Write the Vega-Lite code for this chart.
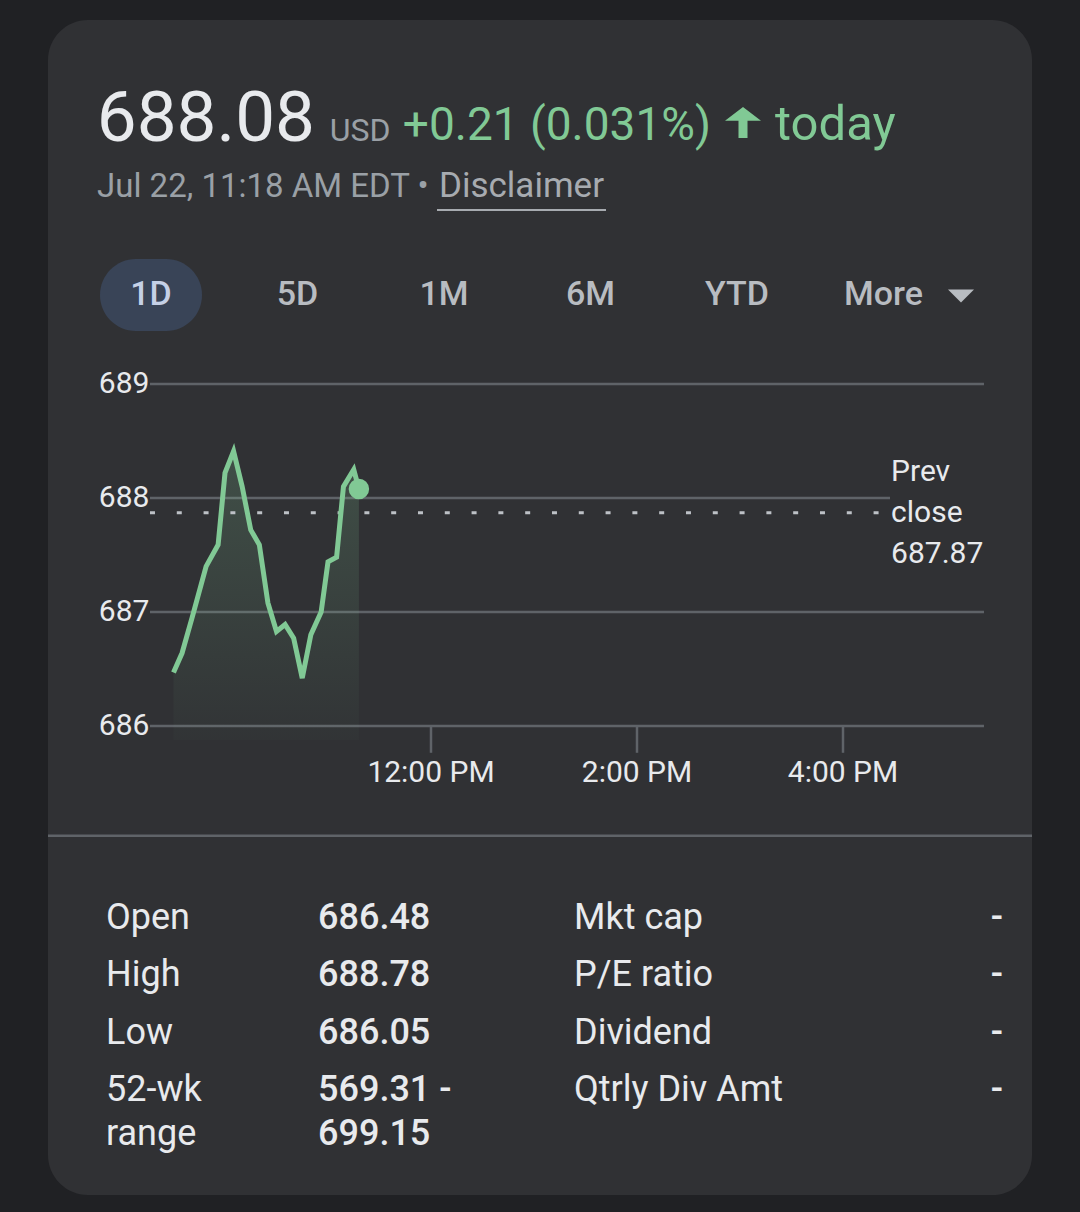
{
  "$schema": "https://vega.github.io/schema/vega-lite/v6.json",
  "width": 984,
  "height": 1175,
  "autosize": {"type": "none"},
  "padding": {"left": 48, "top": 20, "right": 48, "bottom": 17},
  "background": "#202124",
  "config": {
    "view": {"fill": "#303134", "stroke": null, "cornerRadius": 40},
    "text": {"font": "Roboto"}
  },
  "datasets": {
    "price": [
      {"time": "2025-07-22T09:30:00", "price": 686.47},
      {"time": "2025-07-22T09:35:00", "price": 686.64},
      {"time": "2025-07-22T09:41:00", "price": 686.96},
      {"time": "2025-07-22T09:49:00", "price": 687.40},
      {"time": "2025-07-22T09:56:00", "price": 687.59},
      {"time": "2025-07-22T10:00:00", "price": 688.22},
      {"time": "2025-07-22T10:05:00", "price": 688.41},
      {"time": "2025-07-22T10:10:00", "price": 688.10},
      {"time": "2025-07-22T10:15:00", "price": 687.72},
      {"time": "2025-07-22T10:20:00", "price": 687.59},
      {"time": "2025-07-22T10:25:00", "price": 687.08},
      {"time": "2025-07-22T10:30:00", "price": 686.83},
      {"time": "2025-07-22T10:35:00", "price": 686.89},
      {"time": "2025-07-22T10:40:00", "price": 686.77},
      {"time": "2025-07-22T10:45:00", "price": 686.42},
      {"time": "2025-07-22T10:50:00", "price": 686.80},
      {"time": "2025-07-22T10:56:00", "price": 687.00},
      {"time": "2025-07-22T11:00:00", "price": 687.44},
      {"time": "2025-07-22T11:05:00", "price": 687.48},
      {"time": "2025-07-22T11:09:00", "price": 688.10},
      {"time": "2025-07-22T11:15:00", "price": 688.25},
      {"time": "2025-07-22T11:18:00", "price": 688.08}
    ],
    "last": [{"time": "2025-07-22T11:18:00", "price": 688.08}],
    "levels": [{"level": 686}, {"level": 687}, {"level": 688}, {"level": 689}],
    "xticks": [{"tick": "2025-07-22T12:00:00"}, {"tick": "2025-07-22T14:00:00"}, {"tick": "2025-07-22T16:00:00"}],
    "prev": [{"prev_close": 687.87, "label": "Prev\nclose\n687.87"}],
    "header": [
      {"part": "price", "line": "headline", "text": "688.08"},
      {"part": "currency", "line": "headline", "text": "USD"},
      {"part": "change", "line": "headline", "text": "+0.21 (0.031%)"},
      {"part": "arrow", "line": "headline", "text": "↑"},
      {"part": "today", "line": "headline", "text": "today"},
      {"part": "info", "line": "subline", "text": "Jul 22, 11:18 AM EDT •"},
      {"part": "disclaimer", "line": "subline", "text": "Disclaimer"}
    ],
    "tabs": [
      {"tab": "1D", "selected": true},
      {"tab": "5D", "selected": false},
      {"tab": "1M", "selected": false},
      {"tab": "6M", "selected": false},
      {"tab": "YTD", "selected": false},
      {"tab": "More", "selected": false}
    ],
    "stats": [
      {"row": "open", "col": "label", "text": "Open"},
      {"row": "open", "col": "value", "text": "686.48"},
      {"row": "open", "col": "label2", "text": "Mkt cap"},
      {"row": "open", "col": "value2", "text": "-"},
      {"row": "high", "col": "label", "text": "High"},
      {"row": "high", "col": "value", "text": "688.78"},
      {"row": "high", "col": "label2", "text": "P/E ratio"},
      {"row": "high", "col": "value2", "text": "-"},
      {"row": "low", "col": "label", "text": "Low"},
      {"row": "low", "col": "value", "text": "686.05"},
      {"row": "low", "col": "label2", "text": "Dividend"},
      {"row": "low", "col": "value2", "text": "-"},
      {"row": "range", "col": "label", "text": "52-wk\nrange"},
      {"row": "range", "col": "value", "text": "569.31 -\n699.15"},
      {"row": "range", "col": "label2", "text": "Qtrly Div Amt"},
      {"row": "range", "col": "value2", "text": "-"}
    ]
  },
  "layer": [
    {
      "data": {"name": "header"},
      "encoding": {
        "x": {"field": "part", "type": "nominal", "scale": {"type": "point", "domain": ["price", "currency"], "range": [267, 312], "padding": 0}, "axis": null},
        "y": {"field": "line", "type": "nominal", "scale": {"type": "point", "domain": ["headline"], "range": [121, 121], "padding": 0}, "axis": null},
        "text": {"field": "text"}
      },
      "layer": [
        {"transform": [{"filter": "datum.part === 'price'"}], "mark": {"type": "text", "align": "right", "baseline": "alphabetic", "fontSize": 71, "color": "#e8eaed"}},
        {"transform": [{"filter": "datum.part === 'currency'"}], "mark": {"type": "text", "align": "center", "baseline": "alphabetic", "fontSize": 32, "color": "#9aa0a6"}}
      ]
    },
    {
      "data": {"name": "header"},
      "encoding": {
        "x": {"field": "part", "type": "nominal", "scale": {"type": "point", "domain": ["change", "arrow", "today"], "range": [663, 727], "padding": 0}, "axis": null},
        "y": {"field": "line", "type": "nominal", "scale": {"type": "point", "domain": ["headline"], "range": [120, 120], "padding": 0}, "axis": null}
      },
      "layer": [
        {"transform": [{"filter": "datum.part === 'change'"}], "mark": {"type": "text", "align": "right", "baseline": "alphabetic", "fontSize": 46, "color": "#81c995"}, "encoding": {"text": {"field": "text"}}},
        {"transform": [{"filter": "datum.part === 'arrow'"}], "mark": {"type": "point", "filled": true, "opacity": 1, "strokeWidth": 0, "shape": "M 0,-1.833 L 1,-1.072 L 0.25,-1.072 L 0.25,-0.111 L -0.25,-0.111 L -0.25,-1.072 L -1,-1.072 Z", "size": 1296, "color": "#81c995"}},
        {"transform": [{"filter": "datum.part === 'today'"}], "mark": {"type": "text", "align": "left", "baseline": "alphabetic", "fontSize": 49, "color": "#81c995"}, "encoding": {"text": {"field": "text"}}}
      ]
    },
    {
      "data": {"name": "header"},
      "encoding": {
        "x": {"field": "part", "type": "nominal", "scale": {"type": "point", "domain": ["info", "disclaimer"], "range": [49, 473.5], "padding": 0}, "axis": null},
        "y": {"field": "line", "type": "nominal", "scale": {"type": "point", "domain": ["subline"], "range": [177, 177], "padding": 0}, "axis": null}
      },
      "layer": [
        {"transform": [{"filter": "datum.part === 'info'"}], "mark": {"type": "text", "align": "left", "baseline": "alphabetic", "fontSize": 33, "color": "#9aa0a6"}, "encoding": {"text": {"field": "text"}}},
        {"transform": [{"filter": "datum.part === 'disclaimer'"}], "mark": {"type": "text", "align": "center", "baseline": "alphabetic", "fontSize": 35, "color": "#a7abb0"}, "encoding": {"text": {"field": "text"}}},
        {"transform": [{"filter": "datum.part === 'disclaimer'"}], "mark": {"type": "point", "filled": true, "opacity": 1, "strokeWidth": 0, "shape": "M -1,0.142 L 1,0.142 L 1,0.166 L -1,0.166 Z", "size": 28561, "color": "#a7abb0"}}
      ]
    },
    {
      "data": {"name": "tabs"},
      "encoding": {
        "x": {"field": "tab", "type": "nominal", "scale": {"type": "point", "domain": ["1D", "5D", "1M", "6M", "YTD", "More"], "range": [103, 835.5], "padding": 0}, "axis": null},
        "y": {"datum": "tabs", "type": "nominal", "scale": {"type": "point", "domain": ["tabs"], "range": [275, 275], "padding": 0}, "axis": null}
      },
      "layer": [
        {"transform": [{"filter": "datum.selected"}], "mark": {"type": "point", "filled": true, "opacity": 1, "strokeWidth": 0, "shape": "M -0.294,-0.706 L 0.294,-0.706 A 0.706,0.706 0 0 1 0.294,0.706 L -0.294,0.706 A 0.706,0.706 0 0 1 -0.294,-0.706 Z", "size": 10404, "color": "#394457"}},
        {"mark": {"type": "text", "align": "center", "baseline": "middle", "fontSize": 34, "fontWeight": 500}, "encoding": {"text": {"field": "tab"}, "color": {"condition": {"test": "datum.selected", "value": "#c5d0e6"}, "value": "#b8bcc1"}}}
      ]
    },
    {
      "data": {"name": "tabs"},
      "transform": [{"filter": "datum.tab === 'More'"}],
      "mark": {"type": "point", "filled": true, "opacity": 1, "strokeWidth": 0, "shape": "M -1,-0.5 L 1,-0.5 L 0,0.5 Z", "size": 676, "color": "#b8bcc1"},
      "encoding": {
        "x": {"field": "tab", "type": "nominal", "scale": {"type": "point", "domain": ["More"], "range": [913, 913], "padding": 0}, "axis": null},
        "y": {"datum": "tabs", "type": "nominal", "scale": {"type": "point", "domain": ["tabs"], "range": [276, 276], "padding": 0}, "axis": null}
      }
    },
    {
      "layer": [
        {
          "data": {"name": "levels"},
          "transform": [{"filter": "datum.level !== 688"}],
          "mark": {"type": "rule", "color": "#5f6368", "strokeWidth": 2.5},
          "encoding": {
            "x": {"datum": {"year": 2025, "month": 7, "date": 22, "hours": 9, "minutes": 16, "seconds": 18}, "type": "temporal", "scale": {"domain": [{"year": 2025, "month": 7, "date": 22, "hours": 9, "minutes": 30}, {"year": 2025, "month": 7, "date": 22, "hours": 16, "minutes": 0}], "range": [125.5, 795], "nice": false}, "axis": null},
            "x2": {"datum": {"year": 2025, "month": 7, "date": 22, "hours": 17, "minutes": 22, "seconds": 8}},
            "y": {"field": "level", "type": "quantitative", "scale": {"domain": [686, 689], "range": [706, 364], "nice": false, "zero": false}, "axis": null}
          }
        },
        {
          "data": {"name": "levels"},
          "transform": [{"filter": "datum.level === 688"}],
          "mark": {"type": "rule", "color": "#5f6368", "strokeWidth": 2.5},
          "encoding": {
            "x": {"datum": {"year": 2025, "month": 7, "date": 22, "hours": 9, "minutes": 16, "seconds": 18}, "type": "temporal", "axis": null},
            "x2": {"datum": {"year": 2025, "month": 7, "date": 22, "hours": 16, "minutes": 27, "seconds": 23}},
            "y": {"field": "level", "type": "quantitative", "axis": null}
          }
        },
        {
          "data": {"name": "levels"},
          "mark": {"type": "text", "align": "right", "baseline": "middle", "fontSize": 30, "color": "#e8eaed"},
          "encoding": {
            "x": {"datum": {"year": 2025, "month": 7, "date": 22, "hours": 9, "minutes": 16, "seconds": 0}, "type": "temporal", "axis": null},
            "y": {"field": "level", "type": "quantitative", "axis": null},
            "text": {"field": "level", "type": "quantitative"}
          }
        },
        {
          "data": {"name": "xticks"},
          "mark": {"type": "rule", "color": "#5f6368", "strokeWidth": 2.5},
          "encoding": {
            "x": {"field": "tick", "type": "temporal", "axis": null},
            "y": {"datum": 686, "type": "quantitative", "axis": null},
            "y2": {"datum": 685.765}
          }
        },
        {
          "data": {"name": "xticks"},
          "mark": {"type": "text", "align": "center", "baseline": "alphabetic", "fontSize": 30, "color": "#e8eaed"},
          "encoding": {
            "x": {"field": "tick", "type": "temporal", "axis": null},
            "y": {"datum": 685.509, "type": "quantitative", "axis": null},
            "text": {"field": "tick", "type": "temporal", "format": "%-I:%M %p"}
          }
        },
        {
          "data": {"name": "price"},
          "mark": {"type": "area", "interpolate": "linear", "color": {"gradient": "linear", "x1": 0, "y1": 0, "x2": 0, "y2": 1, "stops": [{"offset": 0, "color": "rgba(129,201,149,0.2)"}, {"offset": 1, "color": "rgba(129,201,149,0.02)"}]}},
          "encoding": {
            "x": {"field": "time", "type": "temporal", "axis": null},
            "y": {"field": "price", "type": "quantitative", "axis": null},
            "y2": {"datum": 685.877}
          }
        },
        {
          "data": {"name": "prev"},
          "mark": {"type": "rule", "color": "#bdc1c6", "strokeWidth": 3, "strokeDash": [5, 21.8]},
          "encoding": {
            "x": {"datum": {"year": 2025, "month": 7, "date": 22, "hours": 9, "minutes": 16, "seconds": 18}, "type": "temporal", "axis": null},
            "x2": {"datum": {"year": 2025, "month": 7, "date": 22, "hours": 16, "minutes": 23, "seconds": 53}},
            "y": {"field": "prev_close", "type": "quantitative", "axis": null}
          }
        },
        {
          "data": {"name": "price"},
          "mark": {"type": "line", "color": "#81c995", "strokeWidth": 5, "strokeJoin": "miter", "interpolate": "linear"},
          "encoding": {
            "x": {"field": "time", "type": "temporal", "axis": null},
            "y": {"field": "price", "type": "quantitative", "axis": null}
          }
        },
        {
          "data": {"name": "last"},
          "mark": {"type": "point", "shape": "circle", "filled": true, "opacity": 1, "size": 420, "color": "#81c995", "strokeWidth": 0},
          "encoding": {
            "x": {"field": "time", "type": "temporal", "axis": null},
            "y": {"field": "price", "type": "quantitative", "axis": null}
          }
        },
        {
          "data": {"name": "prev"},
          "mark": {"type": "text", "align": "left", "baseline": "middle", "fontSize": 30, "lineHeight": 41, "lineBreak": "\n", "color": "#e8eaed", "dy": -41},
          "encoding": {
            "x": {"datum": {"year": 2025, "month": 7, "date": 22, "hours": 16, "minutes": 28}, "type": "temporal", "axis": null},
            "y": {"field": "prev_close", "type": "quantitative", "axis": null},
            "text": {"field": "label"}
          }
        },
        {
          "data": {"name": "prev"},
          "mark": {"type": "rule", "color": "#5f6368", "strokeWidth": 2.5},
          "encoding": {
            "y": {"datum": 685.038, "type": "quantitative", "axis": null}
          }
        }
      ]
    },
    {
      "data": {"name": "stats"},
      "encoding": {
        "y": {"field": "row", "type": "nominal", "scale": {"type": "point", "domain": ["open", "high", "low", "range"], "range": [909.3, 1080.7], "padding": 0}, "axis": null},
        "text": {"field": "text"}
      },
      "layer": [
        {"transform": [{"filter": "datum.col === 'label'"}], "mark": {"type": "text", "align": "left", "baseline": "alphabetic", "fontSize": 36, "lineHeight": 44, "lineBreak": "\n", "color": "#e8eaed"}, "encoding": {"x": {"field": "col", "type": "nominal", "scale": {"type": "point", "domain": ["label"], "range": [58, 58], "padding": 0}, "axis": null}}},
        {"transform": [{"filter": "datum.col === 'value'"}], "mark": {"type": "text", "align": "left", "baseline": "alphabetic", "fontSize": 36, "fontWeight": 500, "lineHeight": 44, "lineBreak": "\n", "color": "#e8eaed"}, "encoding": {"x": {"field": "col", "type": "nominal", "scale": {"type": "point", "domain": ["value"], "range": [270, 270], "padding": 0}, "axis": null}}},
        {"transform": [{"filter": "datum.col === 'label2'"}], "mark": {"type": "text", "align": "left", "baseline": "alphabetic", "fontSize": 36, "lineHeight": 44, "lineBreak": "\n", "color": "#e8eaed"}, "encoding": {"x": {"field": "col", "type": "nominal", "scale": {"type": "point", "domain": ["label2"], "range": [526, 526], "padding": 0}, "axis": null}}},
        {"transform": [{"filter": "datum.col === 'value2'"}], "mark": {"type": "text", "align": "right", "baseline": "alphabetic", "fontSize": 36, "fontWeight": 500, "lineHeight": 44, "lineBreak": "\n", "color": "#e8eaed"}, "encoding": {"x": {"field": "col", "type": "nominal", "scale": {"type": "point", "domain": ["value2"], "range": [955, 955], "padding": 0}, "axis": null}}}
      ],
      "resolve": {"scale": {"x": "independent"}}
    }
  ],
  "resolve": {"scale": {"x": "independent", "y": "independent"}, "axis": {"x": "independent", "y": "independent"}}
}
